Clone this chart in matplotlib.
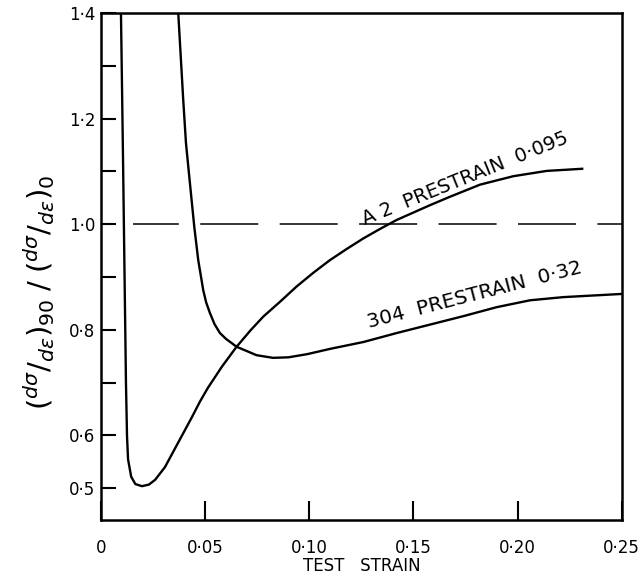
import matplotlib
matplotlib.use("Agg")
import matplotlib.pyplot as plt

# A2 prestrain 0.095 curve
a2_strain = [0.0096, 0.0105, 0.0110, 0.0115, 0.0120, 0.0125, 0.0130, 0.0145,
             0.0165, 0.0197, 0.0230, 0.0260, 0.0307, 0.0370, 0.0437, 0.0475,
             0.0513, 0.0580, 0.0651, 0.0720, 0.0779, 0.0859, 0.0939, 0.1019,
             0.1099, 0.1179, 0.1259, 0.1339, 0.1419, 0.1499, 0.1579, 0.1675,
             0.1820, 0.1980, 0.2140, 0.2310]
a2_ratio = [1.400, 1.150, 1.000, 0.850, 0.700, 0.600, 0.555, 0.522,
            0.508, 0.504, 0.507, 0.516, 0.540, 0.586, 0.635, 0.664,
            0.690, 0.730, 0.768, 0.800, 0.825, 0.853, 0.882, 0.908,
            0.932, 0.953, 0.973, 0.991, 1.008, 1.022, 1.036, 1.052,
            1.075, 1.091, 1.101, 1.105]

# 304 prestrain 0.32 curve
s304_strain = [0.0371, 0.0395, 0.0408, 0.0427, 0.0448, 0.0467, 0.0491, 0.0505,
               0.0523, 0.0545, 0.0571, 0.0600, 0.0651, 0.0747, 0.0826, 0.0900,
               0.0990, 0.1100, 0.1260, 0.1420, 0.1580, 0.1740, 0.1900, 0.2060,
               0.2220, 0.2500]
s304_ratio = [1.400, 1.235, 1.154, 1.078, 0.995, 0.932, 0.875, 0.852,
              0.832, 0.811, 0.794, 0.783, 0.768, 0.752, 0.747, 0.748,
              0.754, 0.764, 0.777, 0.794, 0.810, 0.826, 0.843, 0.856,
              0.862, 0.868]

# reference line
ref_start = 0.0155
ref_level = 1.0

x_ticks = [0, 0.05, 0.10, 0.15, 0.20, 0.25]
x_labels = ["0", "0·05", "0·10", "0·15", "0·20", "0·25"]
y_ticks = [0.5, 0.6, 0.7, 0.8, 0.9, 1.0, 1.1, 1.2, 1.3, 1.4]
y_labels = ["0·5", "0·6", "", "0·8", "", "1·0", "", "1·2", "", "1·4"]

fig = plt.figure(figsize=(6.39, 5.75), dpi=100)
ax = fig.add_axes([0.158, 0.0957, 0.815, 0.8817])

ax.plot(a2_strain, a2_ratio, color="black", lw=1.7)
ax.plot(s304_strain, s304_ratio, color="black", lw=1.7)
ax.plot([ref_start, 0.25], [ref_level, ref_level], color="black", lw=1.1,
        linestyle=(8, (38, 14)))

ax.set_xlim(0, 0.25)
ax.set_ylim(0.44, 1.4)

ax.set_xticks(x_ticks)
ax.set_xticklabels(x_labels)
ax.set_yticks(y_ticks)
ax.set_yticklabels(y_labels)

ax.tick_params(axis="x", direction="in", length=13.5, width=1.5,
               labelsize=12, pad=14)
ax.tick_params(axis="y", direction="in", length=11, width=1.5,
               labelsize=12, pad=4)

for sp in ax.spines.values():
    sp.set_linewidth(1.8)

ax.set_xlabel("TEST   STRAIN", fontsize=12, labelpad=0)
ax.set_ylabel(r"$(^{d\sigma}/_{d\varepsilon})_{90}\;/\;(^{d\sigma}/_{d\varepsilon})_{0}$",
              fontsize=21)
ax.yaxis.set_label_coords(-0.085, 0.45)

ax.text(0.1747, 1.086, "A 2  PRESTRAIN  0·095", fontsize=14,
        rotation=22, ha="center", va="center")
ax.text(0.1795, 0.866, "304  PRESTRAIN  0·32", fontsize=14.5,
        rotation=14.5, ha="center", va="center")

fig.savefig("out.png", dpi=100)
